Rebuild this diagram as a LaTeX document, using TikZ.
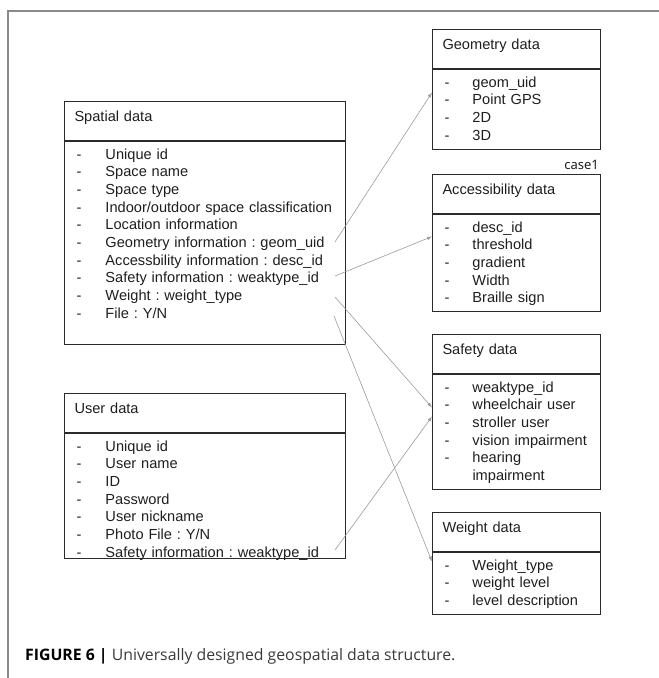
\documentclass[tikz,border=0pt]{standalone}
\usepackage{fontspec}
\setmainfont{Liberation Sans}
\newfontfamily\capfont{Open Sans}
\newfontfamily\notefont{Noto Sans}
\usetikzlibrary{arrows.meta,positioning}
\definecolor{boxc}{HTML}{2B2B2B}
\definecolor{arrc}{HTML}{9B9B9B}
\definecolor{framec}{HTML}{8A8A8A}
\definecolor{txtc}{HTML}{1E1E1E}
\definecolor{capc}{HTML}{3A3A3A}
\frenchspacing

\begin{document}
\begin{tikzpicture}[x=1pt,y=-1pt,font=\fontsize{14.6}{17.7}\selectfont,text=txtc,
hd/.style={draw=boxc,line width=1pt,anchor=north west,inner xsep=10pt,inner ysep=0pt,text width=#1,text height=19.5pt,text depth=19.5pt,align=left},
lst/.style={draw=boxc,line width=1pt,inner xsep=12pt,inner ysep=0pt,text width=#1,text height=17.5pt,align=left},
arr/.style={-{Latex[length=5pt,width=3.6pt]},draw=arrc,line width=0.6pt}]
\useasboundingbox (0,0) rectangle (659,678);
\draw[framec,line width=1.6pt] (8,680) -- (8,11) -- (661,11);
% left tables
\node[hd=261pt] (sph) at (64,101) {Spatial data};
\node[lst=257pt,text depth=185.5pt,below right=0pt of sph.south west] (spl) {\begin{tabular}[t]{@{}p{29pt}@{}l@{}}
- & Unique id\\
- & Space name\\
- & Space type\\
- & Indoor/outdoor space classification\\
- & Location information\\
- & Geometry information : geom\_uid\\
- & Accessbility information : desc\_id\\
- & Safety information : weaktype\_id\\
- & Weight : weight\_type\\
- & File : Y/N
\end{tabular}};
\node[hd=261pt] (ush) at (64,393) {User data};
\node[lst=257pt,text depth=107.5pt,below right=0pt of ush.south west] (usl) {\begin{tabular}[t]{@{}p{29pt}@{}l@{}}
- & Unique id\\
- & User name\\
- & ID\\
- & Password\\
- & User nickname\\
- & Photo File : Y/N\\
- & Safety information : weaktype\_id
\end{tabular}};
% right tables
\node[hd=148pt] (geoh) at (432,29) {Geometry data};
\node[lst=144pt,text depth=62.5pt,below right=0pt of geoh.south west] (geol) {\begin{tabular}[t]{@{}p{28pt}@{}l@{}}
- & geom\_uid\\
- & Point GPS\\
- & 2D\\
- & 3D
\end{tabular}};
\node[hd=148pt,below right=24pt and 0pt of geol.south west] (acch) {Accessibility data};
\node[lst=144pt,text depth=79.5pt,below right=0pt of acch.south west] (accl) {\begin{tabular}[t]{@{}p{28pt}@{}l@{}}
- & desc\_id\\
- & threshold\\
- & gradient\\
- & Width\\
- & Braille sign
\end{tabular}};
\node[hd=148pt,below right=22pt and 0pt of accl.south west] (safh) {Safety data};
\node[lst=144pt,text depth=97.5pt,below right=0pt of safh.south west] (safl) {\begin{tabular}[t]{@{}p{28pt}@{}l@{}}
- & weaktype\_id\\
- & wheelchair user\\
- & stroller user\\
- & vision impairment\\
- & hearing\\
  & impairment
\end{tabular}};
\node[hd=148pt,below right=22pt and 0pt of safl.south west] (wgth) {Weight data};
\node[lst=144pt,text depth=44.5pt,below right=0pt of wgth.south west] (wgtl) {\begin{tabular}[t]{@{}p{28pt}@{}l@{}}
- & Weight\_type\\
- & weight level\\
- & level description
\end{tabular}};
\node[anchor=base east,inner sep=0pt,font=\notefont\fontsize{13}{15}\selectfont] (note) at (599,169) {case1};
% links
\coordinate (ageo) at (335,242);
\coordinate (aacc) at (335,276);
\coordinate (asaf) at (335,297);
\coordinate (awgt) at (334,316);
\coordinate (usaf) at (335,550);
\draw[arr] (ageo) -- ([yshift=17pt]geol.west);
\draw[arr] (aacc) -- ([yshift=26.5pt]accl.west);
\draw[arr] (asaf) -- ([yshift=24.5pt]safl.west);
\draw[arr] (awgt) -- ([yshift=22pt]wgtl.west);
\draw[arr] (usaf) -- ([yshift=15.5pt]safl.west);
% caption
\node[anchor=base west,inner sep=0pt,text=capc,font=\capfont\fontsize{15.8}{18}\selectfont] (cap) at (25,660) {\textcolor{black}{\textbf{FIGURE 6 |}} Universally designed geospatial data structure.};
\end{tikzpicture}
\end{document}
